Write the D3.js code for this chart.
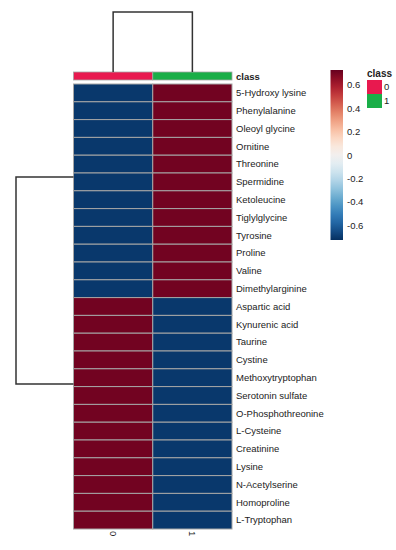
<!DOCTYPE html>
<html>
<head>
<meta charset="utf-8">
<script src="https://cdn.jsdelivr.net/npm/d3@7"></script>
<style>
  body { margin: 0; background: #fff; }
  text { font-family: "Liberation Sans", Arial, sans-serif; fill: #222; }
</style>
</head>
<body>
<div id="chart"></div>
<script>
// row names, top to bottom
var metabolites = ["5-Hydroxy lysine", "Phenylalanine", "Oleoyl glycine", "Ornitine", "Threonine",
  "Spermidine", "Ketoleucine", "Tiglylglycine", "Tyrosine", "Proline", "Valine", "Dimethylarginine",
  "Aspartic acid", "Kynurenic acid", "Taurine", "Cystine", "Methoxytryptophan", "Serotonin sulfate",
  "O-Phosphothreonine", "L-Cysteine", "Creatinine", "Lysine", "N-Acetylserine", "Homoproline", "L-Tryptophan"];

var columns = ["0", "1"];
var classLevels = ["0", "1"];
var classColors = ["#e8194f", "#1aae48"];

// scaled values for each column
var group0 = [-0.707, -0.707, -0.707, -0.707, -0.707, -0.707, -0.707, -0.707, -0.707, -0.707, -0.707, -0.707,
  0.707, 0.707, 0.707, 0.707, 0.707, 0.707, 0.707, 0.707, 0.707, 0.707, 0.707, 0.707, 0.707];
var group1 = [0.707, 0.707, 0.707, 0.707, 0.707, 0.707, 0.707, 0.707, 0.707, 0.707, 0.707, 0.707,
  -0.707, -0.707, -0.707, -0.707, -0.707, -0.707, -0.707, -0.707, -0.707, -0.707, -0.707, -0.707, -0.707];

// dendrograms: merge positions (row units from top) and merge height
var rowMergePos = [5.22, 16.85];
var rowMergeHeight = 1;
var colMergeHeight = 1;

var legendTicks = [-0.6, -0.4, -0.2, 0, 0.2, 0.4, 0.6];
var colorMax = 0.728;

var width = 396, height = 550;

var svg = d3.select("#chart").append("svg")
    .attr("width", width)
    .attr("height", height);

svg.append("rect").attr("width", width).attr("height", height).attr("fill", "#fff");

// scales
var x = d3.scaleBand().domain(columns).range([73.5, 232]);
var y = d3.scaleBand().domain(metabolites).range([84, 529]);
var rowPos = d3.scaleLinear().domain([0, metabolites.length]).range([84, 529]);
var rowH = d3.scaleLinear().domain([0, rowMergeHeight]).range([73.5, 16]);
var colH = d3.scaleLinear().domain([0, colMergeHeight]).range([72, 12]);

var color = d3.scaleSequential(function(t) { return d3.interpolateRdBu(1 - t); })
    .domain([-colorMax, colorMax]);

// cells
var cells = [];
metabolites.forEach(function(m, i) {
  cells.push({row: m, col: "0", value: group0[i]});
  cells.push({row: m, col: "1", value: group1[i]});
});

svg.append("g").selectAll("rect")
  .data(cells)
  .enter().append("rect")
    .attr("x", function(d) { return x(d.col); })
    .attr("y", function(d) { return y(d.row); })
    .attr("width", x.bandwidth())
    .attr("height", y.bandwidth())
    .attr("fill", function(d) { return color(d.value); })
    .attr("stroke", "#a6a6a6")
    .attr("stroke-width", 1);

// class annotation bar
svg.append("g").selectAll("rect")
  .data(columns)
  .enter().append("rect")
    .attr("x", function(d) { return x(d); })
    .attr("y", 72)
    .attr("width", x.bandwidth())
    .attr("height", 8)
    .attr("fill", function(d, i) { return classColors[classLevels.indexOf(d)]; })
    .attr("stroke", "#a6a6a6")
    .attr("stroke-width", 0.8);

svg.append("text")
  .attr("x", 236)
  .attr("y", 79.5)
  .style("font-size", "9.5px")
  .style("font-weight", "bold")
  .text("class");

// row labels
svg.append("g").selectAll("text")
  .data(metabolites)
  .enter().append("text")
    .attr("x", 236)
    .attr("y", function(d) { return y(d) + y.bandwidth() / 2; })
    .attr("dy", "0.35em")
    .style("font-size", "9.5px")
    .text(function(d) { return d; });

// column labels (rotated)
svg.append("g").selectAll("text")
  .data(columns)
  .enter().append("text")
    .attr("transform", function(d) {
      return "translate(" + (x(d) + x.bandwidth() / 2) + ",531) rotate(90)";
    })
    .attr("dy", "0.35em")
    .style("font-size", "9.5px")
    .text(function(d) { return d; });

// column dendrogram
var c0 = x("0") + x.bandwidth() / 2, c1 = x("1") + x.bandwidth() / 2;
svg.append("path")
  .attr("d", "M" + c0 + "," + colH(0) + "V" + colH(colMergeHeight) + "H" + c1 + "V" + colH(0))
  .attr("fill", "none")
  .attr("stroke", "#333")
  .attr("stroke-width", 1.5);

// row dendrogram
svg.append("path")
  .attr("d", "M" + rowH(0) + "," + rowPos(rowMergePos[0]) + "H" + rowH(rowMergeHeight) +
    "V" + rowPos(rowMergePos[1]) + "H" + rowH(0))
  .attr("fill", "none")
  .attr("stroke", "#333")
  .attr("stroke-width", 1.5);

// colour legend
var legY = d3.scaleLinear().domain([-colorMax, colorMax]).range([240, 70]);
var grad = svg.append("defs").append("linearGradient")
    .attr("id", "grad")
    .attr("x1", 0).attr("y1", 1).attr("x2", 0).attr("y2", 0);
d3.range(0, 1.0001, 0.05).forEach(function(t) {
  grad.append("stop")
    .attr("offset", t)
    .attr("stop-color", color(-colorMax + t * 2 * colorMax));
});
svg.append("rect")
  .attr("x", 330.5)
  .attr("y", legY(colorMax))
  .attr("width", 12.5)
  .attr("height", legY(-colorMax) - legY(colorMax))
  .attr("fill", "url(#grad)");

var legAxis = svg.append("g")
  .attr("transform", "translate(343,0)")
  .call(d3.axisRight(legY).tickValues(legendTicks).tickSize(0).tickPadding(4)
    .tickFormat(function(d) { return String(d); }));
legAxis.select(".domain").remove();
legAxis.selectAll("text")
  .style("font-family", "'Liberation Sans', Arial, sans-serif")
  .style("font-size", "9.5px")
  .attr("fill", "#333");

// class legend
svg.append("text")
  .attr("x", 367)
  .attr("y", 77)
  .style("font-size", "10px")
  .style("font-weight", "bold")
  .text("class");

var leg = svg.append("g").selectAll("g")
  .data(classLevels)
  .enter().append("g")
    .attr("transform", function(d, i) { return "translate(367," + (80 + i * 14) + ")"; });
leg.append("rect")
  .attr("width", 15)
  .attr("height", 14)
  .attr("fill", function(d, i) { return classColors[i]; });
leg.append("text")
  .attr("x", 17)
  .attr("y", 7)
  .attr("dy", "0.35em")
  .style("font-size", "9.5px")
  .text(function(d) { return d; });
</script>
</body>
</html>
